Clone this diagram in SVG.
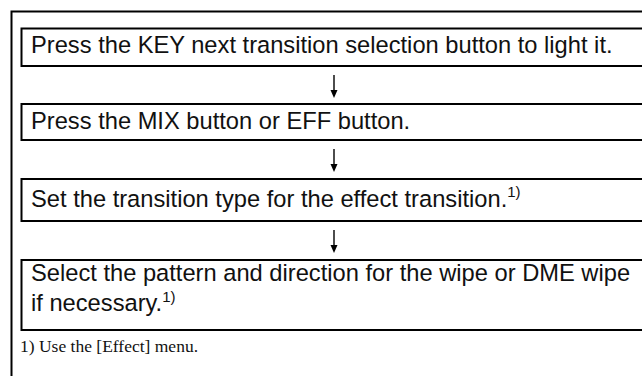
<svg xmlns="http://www.w3.org/2000/svg" width="642" height="376" viewBox="0 0 642 376">
<style>
.frame{fill:none;stroke:#000;stroke-width:2}
.box{fill:#fff;stroke:#000;stroke-width:2}
.t{font-family:"Liberation Sans",Arial,sans-serif;font-size:23.7px;fill:#111}
.sup{font-size:15px}
.note{font-family:"Liberation Serif","Times New Roman",serif;font-size:17.5px;fill:#111}
.shaft{stroke:#000;stroke-width:1.4;fill:none}
</style>
<rect width="642" height="376" fill="#fff"/>
<path class="frame" d="M11.5,376 V11.5 H642"/>
<g id="step1"><rect class="box" x="21.5" y="28.5" width="640" height="37.5"/><text class="t" x="31" y="53">Press the KEY next transition selection button to light it.</text></g>
<g id="step2"><rect class="box" x="21.5" y="104" width="640" height="36"/><text class="t" x="31" y="129">Press the MIX button or EFF button.</text></g>
<g id="step3"><rect class="box" x="21.5" y="179" width="640" height="42"/><text class="t" x="31" y="207">Set the transition type for the effect transition.<tspan class="sup" dy="-10">1)</tspan></text></g>
<g id="step4"><rect class="box" x="21.5" y="260" width="640" height="70"/><text class="t" x="31" y="281">Select the pattern and direction for the wipe or DME wipe</text><text class="t" x="31" y="311">if necessary.<tspan class="sup" dy="-9">1)</tspan></text></g>
<g id="connectors">
<path class="shaft" d="M334,75 V91"/><path d="M330.5,90 L337.5,90 L334,98 Z"/>
<path class="shaft" d="M334,149 V165"/><path d="M330.5,164 L337.5,164 L334,172 Z"/>
<path class="shaft" d="M334,230 V246"/><path d="M330.5,245 L337.5,245 L334,253 Z"/>
</g>
<g id="footnote"><text class="note" x="20" y="352">1) Use the [Effect] menu.</text></g>
</svg>
